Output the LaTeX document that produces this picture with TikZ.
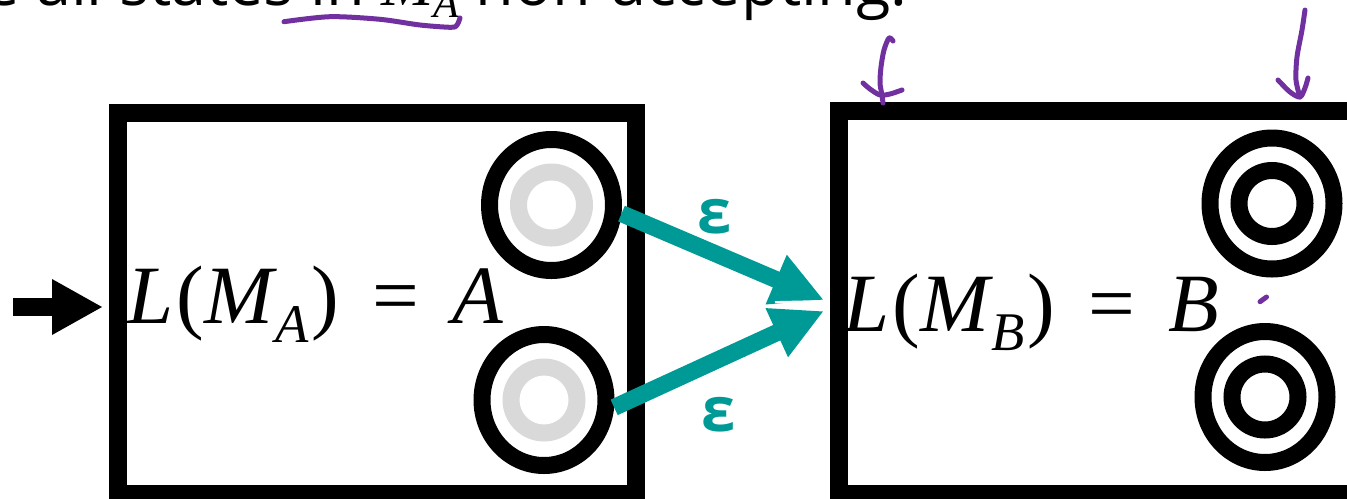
\documentclass[tikz,border=0pt]{standalone}
\usepackage{fontspec}
\setmainfont{Open Sans}
\newfontfamily\mathserif{Liberation Serif}
\usetikzlibrary{arrows.meta,shapes.geometric}

\definecolor{epsteal}{RGB}{0,154,150}
\definecolor{inkpurple}{RGB}{112,48,160}
\definecolor{ringgray}{RGB}{217,217,217}

% italic serif letters used for the math symbols
\newcommand{\mitl}[1]{{\mathserif\itshape #1}}
% language label  L(M_x) = X
\newcommand{\langof}[2]{%
  \mitl{L}\kern0.04em{\mathserif(}\mitl{M}\kern0.02em%
  \raisebox{-0.24em}{\fontsize{31pt}{31pt}\selectfont\mitl{#1}}%
  \kern0.04em{\mathserif)}\hspace{0.4em}{\mathserif=}\hspace{0.4em}\mitl{#2}}

\tikzset{
  machine/.style={draw=black, line width=18*0.02cm, inner sep=0pt},
  acc/.style={ellipse, draw=black, line width=17*0.02cm, inner sep=0pt,
    minimum width=124*0.02cm, minimum height=131*0.02cm},
  innerring/.style={circle, draw=#1, line width=17*0.02cm, inner sep=0pt,
    minimum size=66*0.02cm},
  eps/.style={epsteal, line width=17*0.02cm,
    -{Triangle[length=1.04cm 0 0, width=1.0cm 0 0]}},
  epslabel/.style={text=epsteal, inner sep=0pt,
    font=\fontsize{35pt}{40pt}\selectfont\bfseries},
  startarrow/.style={black, line width=18*0.02cm,
    -{Triangle[length=1.02cm 0 0, width=1.04cm 0 0]}},
  langlabel/.style={anchor=base west, inner sep=0pt,
    font=\fontsize{47.2pt}{50pt}\selectfont},
  ink/.style={inkpurple, line width=5*0.02cm, line cap=round, line join=round}
}

\begin{document}
\begin{tikzpicture}[x=0.02cm, y=-0.02cm]
\path[use as bounding box, clip] (0,0) rectangle (1347,498);

% heading line, mostly above the visible area
\node[anchor=base east, inner sep=0pt, font=\fontsize{35.8pt}{40pt}\selectfont]
  (heading) at (908,5)
  {Make all states in \mitl{M}\raisebox{-0.2em}{\fontsize{24pt}{24pt}\selectfont\mitl{A}} non-accepting.};

% the two machines
\node[machine, minimum width=518.5*0.02cm, minimum height=381*0.02cm]
  (MA) at (376.75,303.5) {};
\node[machine, minimum width=521.5*0.02cm, minimum height=383*0.02cm]
  (MB) at (1099.25,302.5) {};

% accepting states of M_A (made non-accepting: inner ring in gray)
\node[acc] (a1) at (551.5,205) {};
\node[innerring=ringgray] (a1i) at (a1.center) {};
\node[acc] (a2) at (544,400) {};
\node[innerring=ringgray] (a2i) at (a2.center) {};

% accepting states of M_B
\node[acc] (b1) at (1272,203.5) {};
\node[innerring=black] (b1i) at (b1.center) {};
\node[acc] (b2) at (1265,397) {};
\node[innerring=black] (b2i) at (b2.center) {};

% language labels
\node[langlabel] (LA) at (127,323) {\langof{A}{A}};
\node[langlabel] (LB) at (843,331) {\langof{B}{B}};

% start arrow
\coordinate (startfrom) at (13,307);
\draw[startarrow, shorten >=5.5*0.02cm] (startfrom) -- (MA.west |- startfrom);

% epsilon transitions into M_B
\coordinate (into1) at (824,300);
\coordinate (into2) at (824,311);
\draw[eps] (a1.-7) -- (into1);
\draw[eps] (a2.-6) -- (into2);
\draw[white, line width=2*0.02cm] (775,302.1) -- (826,301);
\node[epslabel] (e1) at (715,217) {ε};
\node[epslabel] (e2) at (719,415) {ε};

% handwritten marks
\draw[ink] plot[smooth] coordinates {(284,21.7) (330,16.7) (380,19.3) (420,25) (451,27.3) (457,25) (460,18)};
\draw[ink] plot[smooth] coordinates {(893,41) (889,38) (884,50) (881,67) (880,83) (882,95) (883,103)};
\draw[ink] plot[smooth] coordinates {(863,83) (870,89) (880,95) (890,94) (902,90)};
\draw[ink] plot[smooth] coordinates {(1305,10) (1302,30) (1297,57) (1296,80) (1300,97)};
\draw[ink] plot[smooth] coordinates {(1278,80) (1290,92) (1300,97) (1305,88) (1308,78)};
\draw[ink] (1260,301.7) -- (1266.5,297);
\end{tikzpicture}
\end{document}
